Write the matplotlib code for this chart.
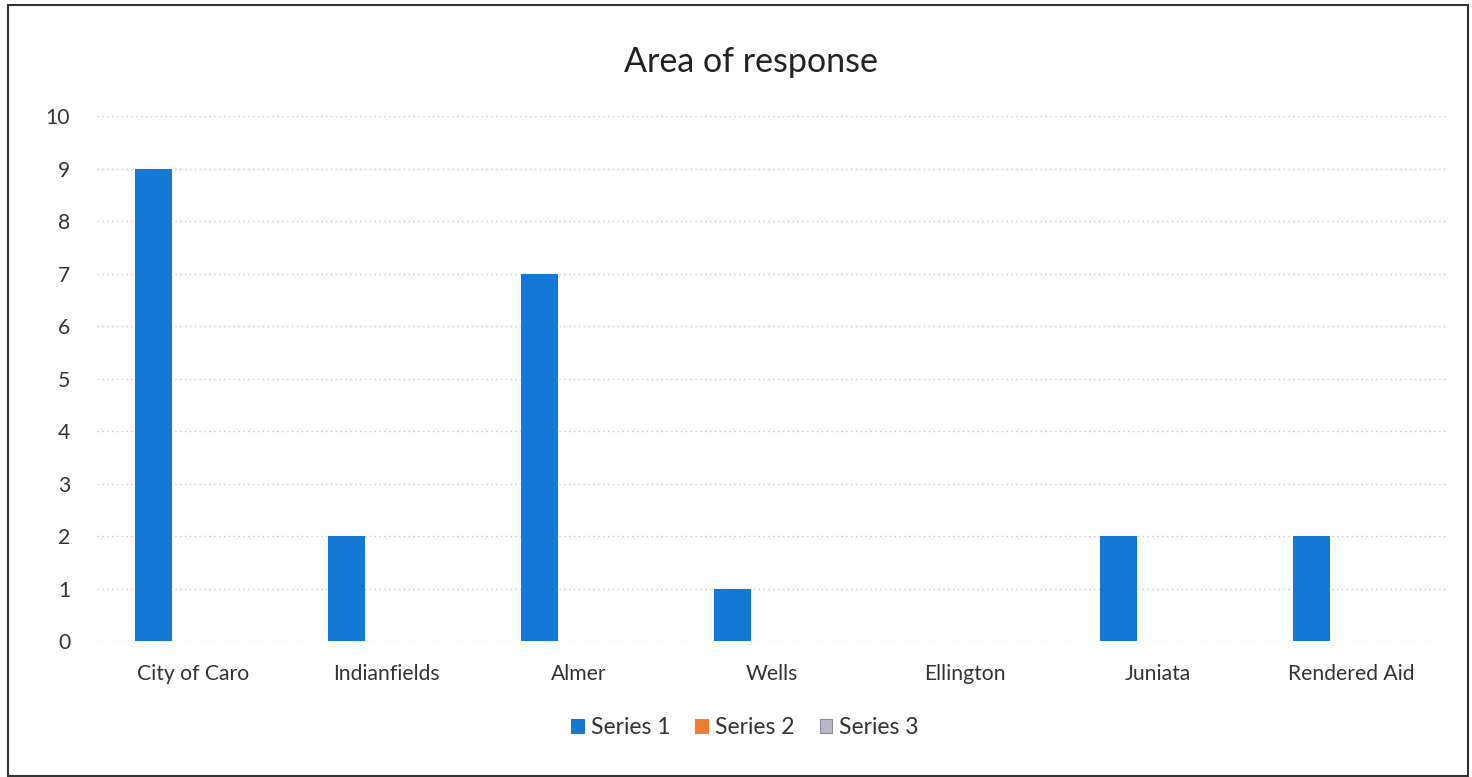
import matplotlib.pyplot as plt
import numpy as np
from matplotlib.patches import Rectangle

# Данные диаграммы
CATEGORIES = ["City of Caro", "Indianfields", "Almer", "Wells",
              "Ellington", "Juniata", "Rendered Aid"]
SERIES_1 = [9, 2, 7, 1, 0, 2, 2]
SERIES_2 = [0, 0, 0, 0, 0, 0, 0]
SERIES_3 = [0, 0, 0, 0, 0, 0, 0]
SERIES_NAMES = ["Series 1", "Series 2", "Series 3"]
Y_TICKS = list(range(0, 11))

COLORS = ["#1478D4", "#ED7D31", "#B8B8C8"]

plt.rcParams["font.family"] = ["Lato", "DejaVu Sans"]

fig = plt.figure(figsize=(14.72, 7.77), dpi=100)
ax = fig.add_axes([0.0656, 0.175, 0.9178, 0.6757])

x = np.arange(len(CATEGORIES))
width = 0.19
step = 0.205
for i, (vals, name, color) in enumerate(zip([SERIES_1, SERIES_2, SERIES_3],
                                            SERIES_NAMES, COLORS)):
    ax.bar(x + (i - 1) * step, vals, width, color=color, label=name,
           linewidth=0.0, zorder=3)

ax.set_xlim(-0.5, len(CATEGORIES) - 0.5)
ax.set_ylim(0, 10)
ax.set_yticks(Y_TICKS)
ax.set_xticks(x)
ax.set_xticklabels(CATEGORIES)
ax.tick_params(axis="x", length=0, pad=16.5, labelsize=15.2, colors="#333333")
ax.tick_params(axis="y", length=0, pad=19, labelsize=15.2, colors="#333333")
ax.grid(axis="y", color="#c4c4c4", linestyle=(0, (1, 2.5)), linewidth=1.0, zorder=0)
for side in ax.spines.values():
    side.set_visible(False)

fig.text(0.510, 0.92, "Area of response", ha="center", va="center",
         fontsize=24.5, color="#222222")

handles = [Rectangle((0, 0), 1, 1, facecolor=c, edgecolor="#8a8a9a" if i == 2 else c,
                     linewidth=0.8) for i, c in enumerate(COLORS)]
fig.legend(handles, SERIES_NAMES, loc="center", bbox_to_anchor=(0.506, 0.064),
           ncol=3, frameon=False, fontsize=16.5, handlelength=0.55,
           handleheight=0.55, handletextpad=0.3, columnspacing=1.1,
           labelcolor="#333333")

# Рамка вокруг диаграммы
fig.patches.append(Rectangle((8 / 1472, 1 / 777), 1460 / 1472, 771 / 777,
                             transform=fig.transFigure, fill=False,
                             edgecolor="#333333", linewidth=1.5))

fig.savefig("out.png", dpi=100)
